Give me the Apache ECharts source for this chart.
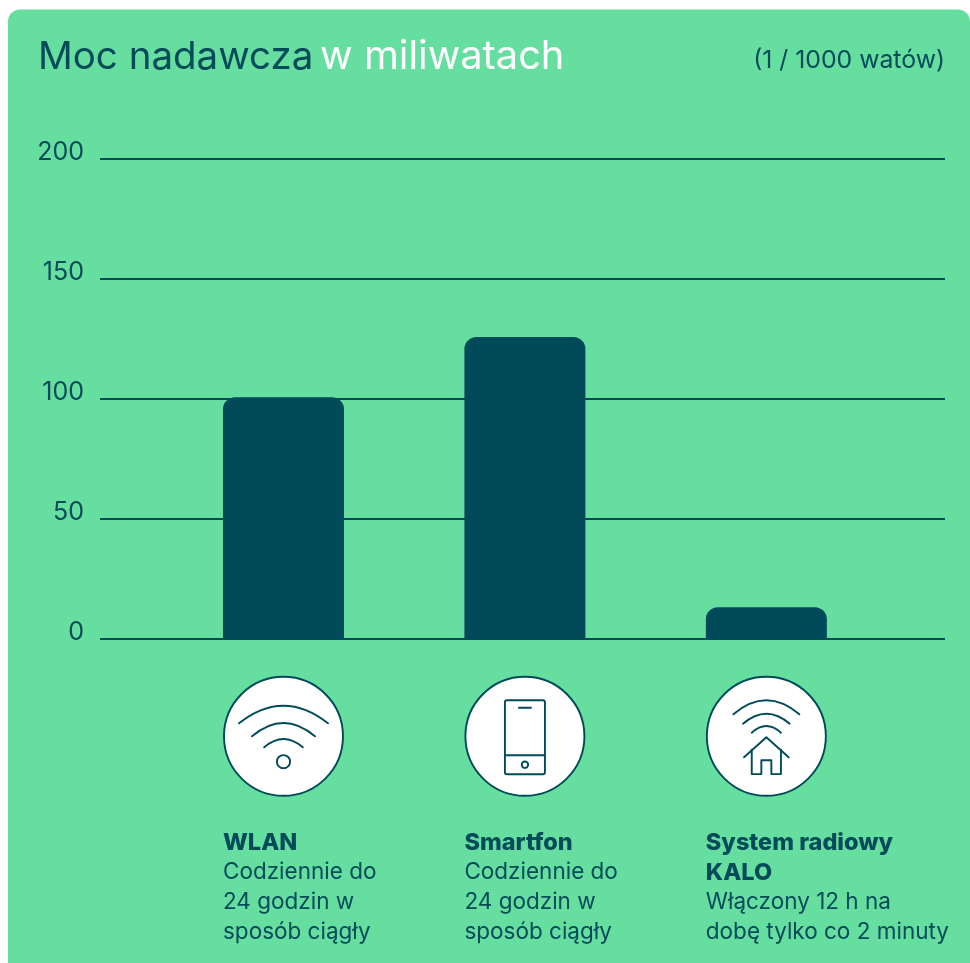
<!DOCTYPE html>
<html>
<head>
<meta charset="utf-8">
<style>
  html, body { margin: 0; padding: 0; background: #fff; }
  #chart { width: 970px; height: 963px; }
</style>
<script src="https://cdn.jsdelivr.net/npm/echarts@6/dist/echarts.min.js"></script>
</head>
<body>
<div id="chart"></div>
<script>
var dark = "#004a5a";
var green = "#66dea0";
var font = "Inter";

// dane
var categories = ["WLAN", "Smartfon", "System radiowy KALO"];
var values = [100.7, 125.8, 13.2];
var yTicks = [0, 50, 100, 150, 200];
var headLines = [["WLAN"], ["Smartfon"], ["System radiowy", "KALO"]];
var bodyLines = [
  ["Codziennie do", "24 godzin w", "sposób ciągły"],
  ["Codziennie do", "24 godzin w", "sposób ciągły"],
  ["Włączony 12 h na", "dobę tylko co 2 minuty"]
];

var myChart = echarts.init(document.getElementById("chart"), null, { renderer: "canvas" });

var option = {
  animation: false,
  backgroundColor: "#fff",
  title: {
    left: 38,
    top: 37,
    padding: 0,
    text: "{a|Moc nadawcza}{s| }{b|w miliwatach}",
    textStyle: {
      rich: {
        a: { color: dark, fontFamily: font, fontSize: 38.5, fontWeight: 400 },
        s: { color: dark, fontFamily: font, fontSize: 24, fontWeight: 400 },
        b: { color: "#fff", fontFamily: font, fontSize: 39.8, fontWeight: 400 }
      }
    }
  },
  grid: { left: 100, right: 25, top: 159, bottom: 324 },
  xAxis: {
    type: "value",
    min: -0.76,
    max: 2.74,
    show: false
  },
  yAxis: {
    type: "value",
    min: 0,
    max: 200,
    interval: 50,
    axisLine: { show: false },
    axisTick: { show: false },
    splitLine: { lineStyle: { color: dark, width: 2 } },
    axisLabel: {
      color: dark,
      fontFamily: font,
      fontSize: 25,
      margin: 16,
      verticalAlign: "bottom",
      lineHeight: 14,
      formatter: function (v) { return yTicks.indexOf(v) >= 0 ? String(v) : ""; }
    }
  },
  series: [
    {
      type: "bar",
      barWidth: 121,
      itemStyle: { color: dark, borderRadius: [12, 12, 0, 0] },
      data: values.map(function (v, i) { return [i, v]; })
    }
  ]
};
myChart.setOption(option);

// tlo karty, ikony i opisy
var lineStyle = { fill: null, stroke: dark, lineWidth: 1.9, lineCap: "round", lineJoin: "round" };

function arc(x1, x2, y, top) {
  return { type: "bezierCurve", shape: { x1: x1, y1: y, x2: x2, y2: y, cpx1: (x1 + x2) / 2, cpy1: 2 * top - y } };
}
function poly(points) {
  return { type: "polyline", shape: { points: points } };
}
function box(x, y, w, h, r) {
  return { type: "rect", shape: { x: x, y: y, width: w, height: h, r: r } };
}
function dot(x, y, r) {
  return { type: "circle", shape: { cx: x, cy: y, r: r } };
}

var icons = [
  [arc(-44.5, 44.5, -13, -30.6), arc(-31.5, 31.5, 0, -13.3), arc(-19.3, 19.3, 11, 2.7), dot(0, 25.4, 6.6)],
  [
    box(-20, -36, 40, 74, 2),
    poly([[-20, 19], [20, 19]]),
    poly([[-6, -28.6], [6, -28.6]]),
    dot(0, 28.4, 3.2)
  ],
  [
    arc(-33, 33, -22, -36),
    arc(-23.3, 23.3, -12.6, -22.6),
    arc(-14.6, 14.6, -3.6, -10.3),
    poly([[-22.3, 21], [0, 1], [22.3, 21]]),
    poly([[-14.6, 13.5], [-14.6, 37.8], [-5, 37.8], [-5, 24], [5, 24], [5, 37.8], [14.6, 37.8], [14.6, 13.5]])
  ]
];

var elements = [
  {
    type: "rect",
    z: -10,
    silent: true,
    shape: { x: 8, y: 9.5, width: 962, height: 1000, r: [12, 12, 0, 0] },
    style: { fill: green }
  },
  {
    type: "text",
    x: 945,
    y: 61,
    style: { text: "(1 / 1000 watów)", fill: dark, font: "400 24.8px " + font, textAlign: "right", textVerticalAlign: "middle" }
  }
];

categories.forEach(function (c, i) {
  var cx = myChart.convertToPixel({ xAxisIndex: 0 }, i);
  var cy = 736.3;
  elements.push({
    type: "circle",
    x: cx,
    y: cy,
    shape: { r: 59.5 },
    style: { fill: "#fff", stroke: dark, lineWidth: 1.9 }
  });
  icons[i].forEach(function (el) {
    el.x = cx;
    el.y = cy;
    el.style = lineStyle;
    elements.push(el);
  });
  var left = cx - 60.5;
  var y = 842.5;
  headLines[i].forEach(function (line) {
    elements.push({
      type: "text",
      x: left,
      y: y,
      style: { text: line, fill: dark, font: "800 23.5px " + font, textVerticalAlign: "middle" }
    });
    y += 30;
  });
  bodyLines[i].forEach(function (line) {
    elements.push({
      type: "text",
      x: left,
      y: y,
      style: { text: line, fill: dark, font: "400 22.5px " + font, textVerticalAlign: "middle" }
    });
    y += 30;
  });
});

myChart.setOption({ graphic: { elements: elements } });
</script>
</body>
</html>
